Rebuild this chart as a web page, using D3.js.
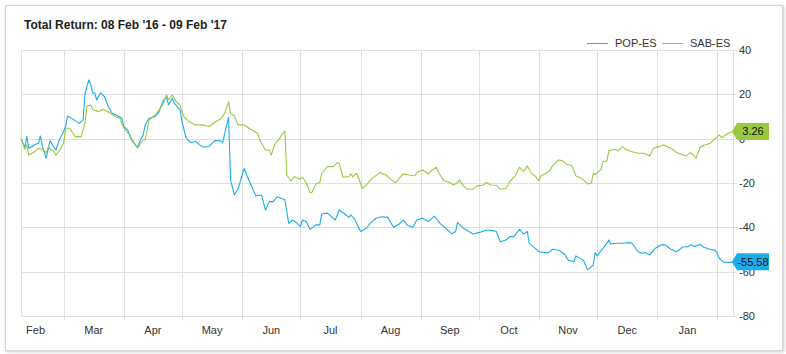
<!DOCTYPE html>
<html lang="en">
<head>
<meta charset="UTF-8">
<title>Total Return POP-ES vs SAB-ES</title>
<script src="https://cdn.jsdelivr.net/npm/d3@7"></script>
<style>
    body { margin: 0; background: #fff; }
    text { font-family: "Liberation Sans", Arial, sans-serif; font-size: 11px; fill: #333; }
    .grid line { stroke: #e0e0e0; stroke-width: 1; shape-rendering: crispEdges; }
    .series { fill: none; stroke-width: 1.1; stroke-linejoin: round; }
</style>
</head>
<body>
<svg width="786" height="354"></svg>
<script>
    // POP-ES total return (%)
    const popDates = ["2016-02-08","2016-02-10","2016-02-11","2016-02-12","2016-02-14","2016-02-17","2016-02-18","2016-02-19","2016-02-21","2016-02-23",
        "2016-02-25","2016-02-26","2016-02-28","2016-03-01","2016-03-02","2016-03-03","2016-03-06","2016-03-09","2016-03-11","2016-03-12",
        "2016-03-14","2016-03-15","2016-03-16","2016-03-17","2016-03-18","2016-03-20","2016-03-22","2016-03-24","2016-03-26","2016-03-28",
        "2016-03-31","2016-04-01","2016-04-03","2016-04-05","2016-04-06","2016-04-08","2016-04-10","2016-04-11","2016-04-12","2016-04-14",
        "2016-04-17","2016-04-19","2016-04-21","2016-04-23","2016-04-24","2016-04-26","2016-04-27","2016-04-30","2016-05-01","2016-05-03",
        "2016-05-05","2016-05-06","2016-05-08","2016-05-10","2016-05-12","2016-05-15","2016-05-18","2016-05-21","2016-05-22","2016-05-23",
        "2016-05-25","2016-05-26","2016-05-28","2016-05-30","2016-06-02","2016-06-04","2016-06-06","2016-06-08","2016-06-11","2016-06-13",
        "2016-06-15","2016-06-17","2016-06-19","2016-06-23","2016-06-25","2016-06-27","2016-06-29","2016-07-01","2016-07-02","2016-07-04",
        "2016-07-06","2016-07-09","2016-07-11","2016-07-12","2016-07-15","2016-07-17","2016-07-19","2016-07-21","2016-07-24","2016-07-26",
        "2016-07-27","2016-07-29","2016-08-01","2016-08-04","2016-08-06","2016-08-09","2016-08-12","2016-08-15","2016-08-18","2016-08-21",
        "2016-08-23","2016-08-25","2016-08-28","2016-08-30","2016-09-02","2016-09-05","2016-09-08","2016-09-11","2016-09-14","2016-09-17",
        "2016-09-19","2016-09-20","2016-09-23","2016-09-28","2016-10-01","2016-10-05","2016-10-08","2016-10-10","2016-10-12","2016-10-15",
        "2016-10-17","2016-10-19","2016-10-22","2016-10-24","2016-10-26","2016-10-27","2016-10-29","2016-11-01","2016-11-04","2016-11-06",
        "2016-11-08","2016-11-11","2016-11-14","2016-11-16","2016-11-19","2016-11-20","2016-11-22","2016-11-24","2016-11-26","2016-11-29",
        "2016-11-30","2016-12-01","2016-12-03","2016-12-05","2016-12-07","2016-12-08","2016-12-11","2016-12-14","2016-12-18","2016-12-19",
        "2016-12-22","2016-12-24","2016-12-26","2016-12-28","2016-12-31","2017-01-03","2017-01-05","2017-01-08","2017-01-11","2017-01-14",
        "2017-01-17","2017-01-18","2017-01-20","2017-01-23","2017-01-25","2017-01-28","2017-01-31","2017-02-02","2017-02-04","2017-02-07",
        "2017-02-09"];
    const popValues = [0,-4,1,-4.3,-3.3,-2,1.2,-3.3,-8.8,-0.9,
        -3.9,-5.1,0,3.2,5.4,10.2,8.7,6.9,8.4,20.5,
        26.5,24.2,20.5,20.7,17.5,20.7,19,14.4,11.5,10.7,
        9.2,5.4,3.9,-0.6,-1.8,-3.9,0.2,1.7,6.2,9.2,
        9.9,11.7,16.7,19,15.2,18.2,16,12.9,7.7,0.5,
        -1.4,-1.8,-1.2,-2.8,-3.9,-3.5,-0.8,-1,-1.8,2.4,
        9.7,-18.6,-25.4,-22.4,-13.4,-17.9,-21.7,-25.8,-25.4,-32.2,
        -28.4,-28.4,-26.2,-27.6,-38.2,-36.7,-37.9,-39.7,-36.7,-37.4,
        -40.9,-38.9,-38.9,-34,-33.6,-35.2,-36.7,-32.2,-34,-35.5,
        -34.4,-36.4,-41.9,-40.4,-38.2,-35.9,-35.2,-35.5,-40,-38.5,
        -36.7,-38.9,-40,-36.7,-35.9,-37.4,-34.9,-38.2,-40.4,-43,
        -41.9,-37.9,-40.4,-43,-42.4,-41.2,-41.5,-41.9,-46.5,-45.7,
        -44.2,-44.2,-40.9,-43,-41.9,-47.2,-48.7,-51,-51.4,-51.4,
        -49.9,-50.2,-52,-54.7,-55.5,-52.9,-53.9,-55,-59.2,-57,
        -51.4,-52.9,-50.5,-48.4,-45.7,-47.5,-47.2,-47.2,-46.9,-47.2,
        -51,-51.7,-51.4,-52.5,-49.4,-47.9,-47.9,-49.9,-51,-48.9,
        -48.7,-47.9,-48.7,-47.7,-49,-49.9,-50.4,-54,-55.7,-55.8,
        -55.58];

    // SAB-ES total return (%)
    const sabDates = ["2016-02-08","2016-02-10","2016-02-11","2016-02-12","2016-02-15","2016-02-17","2016-02-19","2016-02-21","2016-02-22","2016-02-25",
        "2016-02-26","2016-02-28","2016-03-01","2016-03-02","2016-03-04","2016-03-06","2016-03-07","2016-03-10","2016-03-12","2016-03-13",
        "2016-03-15","2016-03-16","2016-03-19","2016-03-21","2016-03-23","2016-03-25","2016-03-27","2016-03-30","2016-04-01","2016-04-04",
        "2016-04-06","2016-04-08","2016-04-11","2016-04-12","2016-04-14","2016-04-16","2016-04-18","2016-04-21","2016-04-23","2016-04-24",
        "2016-04-26","2016-04-28","2016-04-30","2016-05-01","2016-05-02","2016-05-05","2016-05-08","2016-05-12","2016-05-15","2016-05-18",
        "2016-05-21","2016-05-23","2016-05-25","2016-05-26","2016-05-28","2016-05-30","2016-06-02","2016-06-06","2016-06-09","2016-06-10",
        "2016-06-13","2016-06-15","2016-06-16","2016-06-18","2016-06-20","2016-06-21","2016-06-23","2016-06-24","2016-06-26","2016-06-28",
        "2016-07-01","2016-07-02","2016-07-04","2016-07-06","2016-07-07","2016-07-09","2016-07-11","2016-07-12","2016-07-15","2016-07-18",
        "2016-07-20","2016-07-21","2016-07-23","2016-07-26","2016-07-27","2016-07-28","2016-07-30","2016-08-02","2016-08-04","2016-08-07",
        "2016-08-11","2016-08-14","2016-08-17","2016-08-19","2016-08-21","2016-08-23","2016-08-26","2016-08-29","2016-08-30","2016-09-02",
        "2016-09-03","2016-09-05","2016-09-07","2016-09-09","2016-09-11","2016-09-13","2016-09-16","2016-09-18","2016-09-20","2016-09-21",
        "2016-09-23","2016-09-25","2016-09-28","2016-09-30","2016-10-03","2016-10-05","2016-10-07","2016-10-10","2016-10-12","2016-10-15",
        "2016-10-17","2016-10-20","2016-10-22","2016-10-24","2016-10-26","2016-10-28","2016-10-30","2016-11-01","2016-11-02","2016-11-06",
        "2016-11-08","2016-11-11","2016-11-13","2016-11-15","2016-11-18","2016-11-20","2016-11-23","2016-11-26","2016-11-28","2016-11-29",
        "2016-11-30","2016-12-03","2016-12-04","2016-12-06","2016-12-07","2016-12-10","2016-12-12","2016-12-14","2016-12-16","2016-12-19",
        "2016-12-22","2016-12-25","2016-12-28","2016-12-30","2017-01-02","2017-01-04","2017-01-08","2017-01-11","2017-01-13","2017-01-16",
        "2017-01-18","2017-01-19","2017-01-21","2017-01-23","2017-01-25","2017-01-28","2017-01-30","2017-02-02","2017-02-03","2017-02-07",
        "2017-02-09"];
    const sabValues = [0,-4.8,-2.8,-7.4,-5.9,-4.3,-5,-6.3,-3.9,-5.9,
        -7.4,-5.1,-2.1,4.7,4.7,2.4,0.9,0.9,6.9,14.7,
        15.2,13.2,12.2,13.2,12.6,11.5,10.2,9.2,4.7,1.7,
        -1.4,-4.3,-0.6,-0.6,8.4,9.9,11.5,15.2,19.7,17.5,
        19.7,16.7,15.2,12,9.9,7.5,6.2,6.2,5.4,7.5,
        9,11.5,16.7,11.5,10.2,6.2,6.2,3.9,2.4,-0.5,
        -5.1,-5.1,-7.4,-2.1,-0.5,1.2,3.4,-16.4,-19,-17.2,
        -18.3,-17.4,-19.8,-24.4,-24.2,-20.4,-19.8,-15.6,-12.6,-12.6,
        -10.8,-11.2,-17.4,-17.1,-15.9,-17.2,-15.6,-22.4,-20.9,-17.9,
        -15.3,-16.4,-18.6,-19.8,-17.9,-15.9,-16.4,-16.7,-15.3,-14.1,
        -14.8,-15.9,-14.1,-12.9,-16.4,-18.9,-19.8,-20.9,-19.8,-18.6,
        -21.3,-22.8,-22.8,-21.3,-21,-19.8,-20.9,-21,-22.8,-22.4,
        -19.4,-16.4,-12.9,-14.9,-12.3,-15.6,-16.8,-18.9,-16.8,-14.9,
        -12.3,-9.6,-9.9,-11.4,-12.3,-16.8,-17.9,-20.4,-20,-15.6,
        -16.2,-13.8,-10.4,-10,-5.4,-4.8,-5.4,-3.6,-5,-5.9,
        -6.6,-6.6,-7.8,-4.3,-3.6,-2.8,-4.3,-6.3,-6.9,-7.8,
        -6.3,-7,-8.8,-4,-3,-2.2,-0.6,1.7,0.4,2.7,
        3.26];

    const seriesNames = ["POP-ES", "SAB-ES"];
    const seriesColors = ["#1badea", "#9cc83f"];
    const yTicks = [40, 20, 0, -20, -40, -60, -80];
    const monthLabels = ["Feb","Mar","Apr","May","Jun","Jul","Aug","Sep","Oct","Nov","Dec","Jan"];
    const titleText = "Total Return: 08 Feb '16 - 09 Feb '17";

    const parse = d3.timeParse("%Y-%m-%d");
    const series = [
        {name: seriesNames[0], color: seriesColors[0], pts: popDates.map((d, i) => ({date: parse(d), value: popValues[i]}))},
        {name: seriesNames[1], color: seriesColors[1], pts: sabDates.map((d, i) => ({date: parse(d), value: sabValues[i]}))}
    ];

    const svg = d3.select("svg");
    const plot = {left: 21, right: 733, top: 50, bottom: 316};

    const x = d3.scaleTime()
        .domain([parse("2016-02-08"), parse("2017-02-09")])
        .range([plot.left, plot.right]);
    const y = d3.scaleLinear().domain([-80, 40]).range([plot.bottom, plot.top]);

    // card with soft shadow
    const defs = svg.append("defs");
    defs.append("filter").attr("id", "shadow")
        .attr("x", "-5%").attr("y", "-5%").attr("width", "110%").attr("height", "110%")
        .append("feDropShadow")
          .attr("dx", 1).attr("dy", 1).attr("stdDeviation", 1.5)
          .attr("flood-color", "#000").attr("flood-opacity", 0.22);
    svg.append("rect")
        .attr("x", 5.5).attr("y", 5.5).attr("width", 777).attr("height", 345)
        .style("fill", "#fff").style("stroke", "#d4d4d4")
        .attr("filter", "url(#shadow)");

    svg.append("text")
        .attr("x", 24).attr("y", 29)
        .style("font-size", "12px").style("font-weight", "bold").style("fill", "#222")
        .text(titleText);

    // grid
    const grid = svg.append("g").attr("class", "grid");
    const monthStarts = d3.timeMonth.range(d3.timeMonth.ceil(x.domain()[0]), x.domain()[1]);
    grid.selectAll("line.v")
        .data(monthStarts)
        .join("line").attr("class", "v")
          .attr("x1", d => Math.round(x(d)) + 0.5).attr("x2", d => Math.round(x(d)) + 0.5)
          .attr("y1", plot.top).attr("y2", plot.bottom + 4);
    grid.selectAll("line.edge")
        .data([plot.left, plot.right])
        .join("line").attr("class", "edge")
          .attr("x1", d => d + 0.5).attr("x2", d => d + 0.5)
          .attr("y1", plot.top).attr("y2", plot.bottom);
    grid.selectAll("line.h")
        .data(yTicks)
        .join("line").attr("class", "h")
          .attr("x1", plot.left).attr("x2", plot.right + 4)
          .attr("y1", d => Math.round(y(d)) + 0.5).attr("y2", d => Math.round(y(d)) + 0.5);

    // y labels (right side)
    svg.selectAll("text.ylab")
        .data(yTicks)
        .join("text").attr("class", "ylab")
          .attr("x", plot.right + 6)
          .attr("y", d => y(d) + 4)
          .text(d => d);

    // month labels centred in each month
    const monthMids = d3.timeMonth.range(d3.timeMonth.floor(x.domain()[0]), d3.timeMonth.floor(x.domain()[1]))
        .map(m => new Date((+m + +d3.timeMonth.offset(m, 1)) / 2));
    svg.selectAll("text.xlab")
        .data(monthMids)
        .join("text").attr("class", "xlab")
          .attr("x", d => x(d))
          .attr("y", 334)
          .attr("text-anchor", "middle")
          .text((d, i) => monthLabels[i]);

    // series lines
    const line = d3.line().x(d => x(d.date)).y(d => y(d.value));
    svg.selectAll("path.series")
        .data(series)
        .join("path").attr("class", "series")
          .attr("d", d => line(d.pts))
          .style("stroke", d => d.color);

    // legend
    const legendX = [587, 662];
    const legend = svg.selectAll("g.legend")
        .data(series)
        .join("g").attr("class", "legend")
          .attr("transform", (d, i) => `translate(${legendX[i]},43)`);
    legend.append("line")
        .attr("x1", 0).attr("x2", 21).attr("y1", 0.5).attr("y2", 0.5)
        .style("stroke", d => d.color).style("stroke-width", 1);
    legend.append("text")
        .attr("x", 28).attr("y", 4)
        .text(d => d.name);

    // last value flags
    const flags = svg.selectAll("g.flag")
        .data(series)
        .join("g").attr("class", "flag")
          .attr("transform", d => `translate(${plot.right - 1},${y(d.pts[d.pts.length - 1].value)})`);
    flags.append("path")
        .attr("d", "M0,0 L5,-8.5 L37,-8.5 L37,8.5 L5,8.5 Z")
        .style("fill", d => d.color);
    flags.append("text")
        .attr("x", 21).attr("y", 4)
        .attr("text-anchor", "middle")
        .style("fill", "#111")
        .text(d => d.pts[d.pts.length - 1].value.toFixed(2));
</script>
</body>
</html>
